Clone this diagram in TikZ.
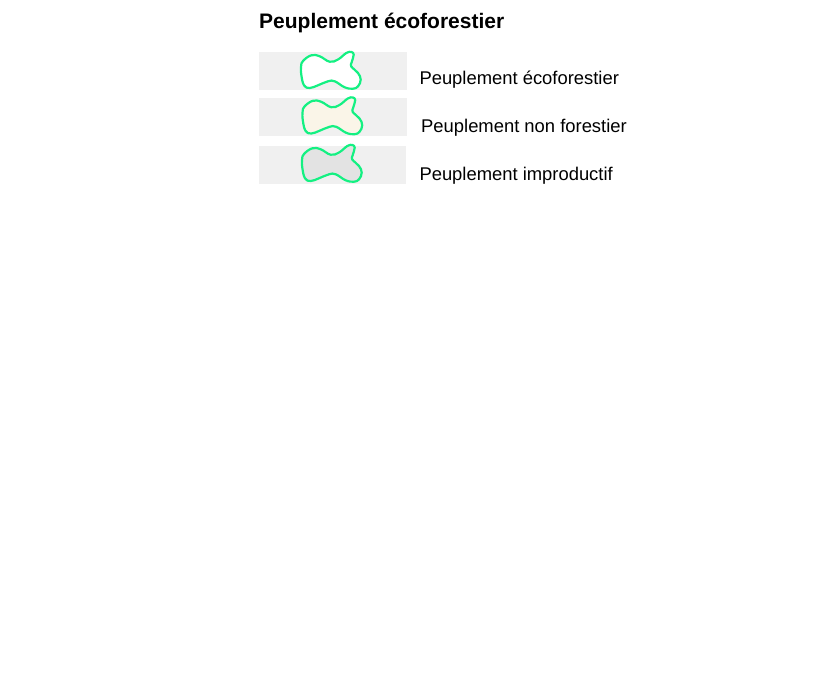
\documentclass[tikz,border=0pt]{standalone}
\usepackage{fontspec}
\setmainfont{Liberation Sans}
\usepackage{tikz}

\definecolor{rectgris}{RGB}{240,240,240}
\definecolor{contourvert}{RGB}{20,240,130}
\definecolor{fondcreme}{RGB}{250,245,232}
\definecolor{fondgris}{RGB}{227,227,227}

\newcommand{\tachecoords}{(-28,-9) (-19.7,-14.7) (-11.3,-13.7) (-1.3,-8.3) (7,-10.5) (15.3,-17) (20.3,-18) (22.7,-15.3) (20.6,-7.5) (20.3,-3.5) (27,3) (29.7,9.7) (27,16.3) (22,18.7) (13.7,17.3) (3.7,11.3) (-3,11.3) (-13,15.3) (-21.3,18) (-27,15.3) (-29.7,4.7) (-29.9,-3.7)}

\begin{document}
\begin{tikzpicture}[x=1pt, y=-1pt,
    titre/.style={anchor=base west, inner sep=0pt, font=\fontsize{21}{24}\selectfont\bfseries},
    etiquette/.style={anchor=base west, inner sep=0pt, font=\fontsize{18.4}{22}\selectfont},
    case/.style={fill=rectgris, draw=none},
    tache/.style={draw=contourvert, line width=2.2pt, line join=round}]

        \useasboundingbox (0,0) rectangle (832,693);

        \node[titre] (titre) at (259,28.5) {Peuplement écoforestier};

        %cases de la legende
        \fill[case] (259,52) rectangle (407,90);
        \fill[case] (259,98) rectangle (407,136);
        \fill[case] (259,146) rectangle (406,184);

        %taches
        \draw[tache, fill=white, shift={(331,70)}] plot[smooth cycle, tension=0.7] coordinates {\tachecoords};
        \draw[tache, fill=fondcreme, shift={(332.5,115.5)}] plot[smooth cycle, tension=0.7] coordinates {\tachecoords};
        \draw[tache, fill=fondgris, shift={(332,163)}] plot[smooth cycle, tension=0.7] coordinates {\tachecoords};

        \node[etiquette] (ecoforestier) at (419.3,84.7) {Peuplement écoforestier};
        \node[etiquette] (nonforestier) at (421,132.7) {Peuplement non forestier};
        \node[etiquette] (improductif) at (419.3,180) {Peuplement improductif};
    \end{tikzpicture}
\end{document}
